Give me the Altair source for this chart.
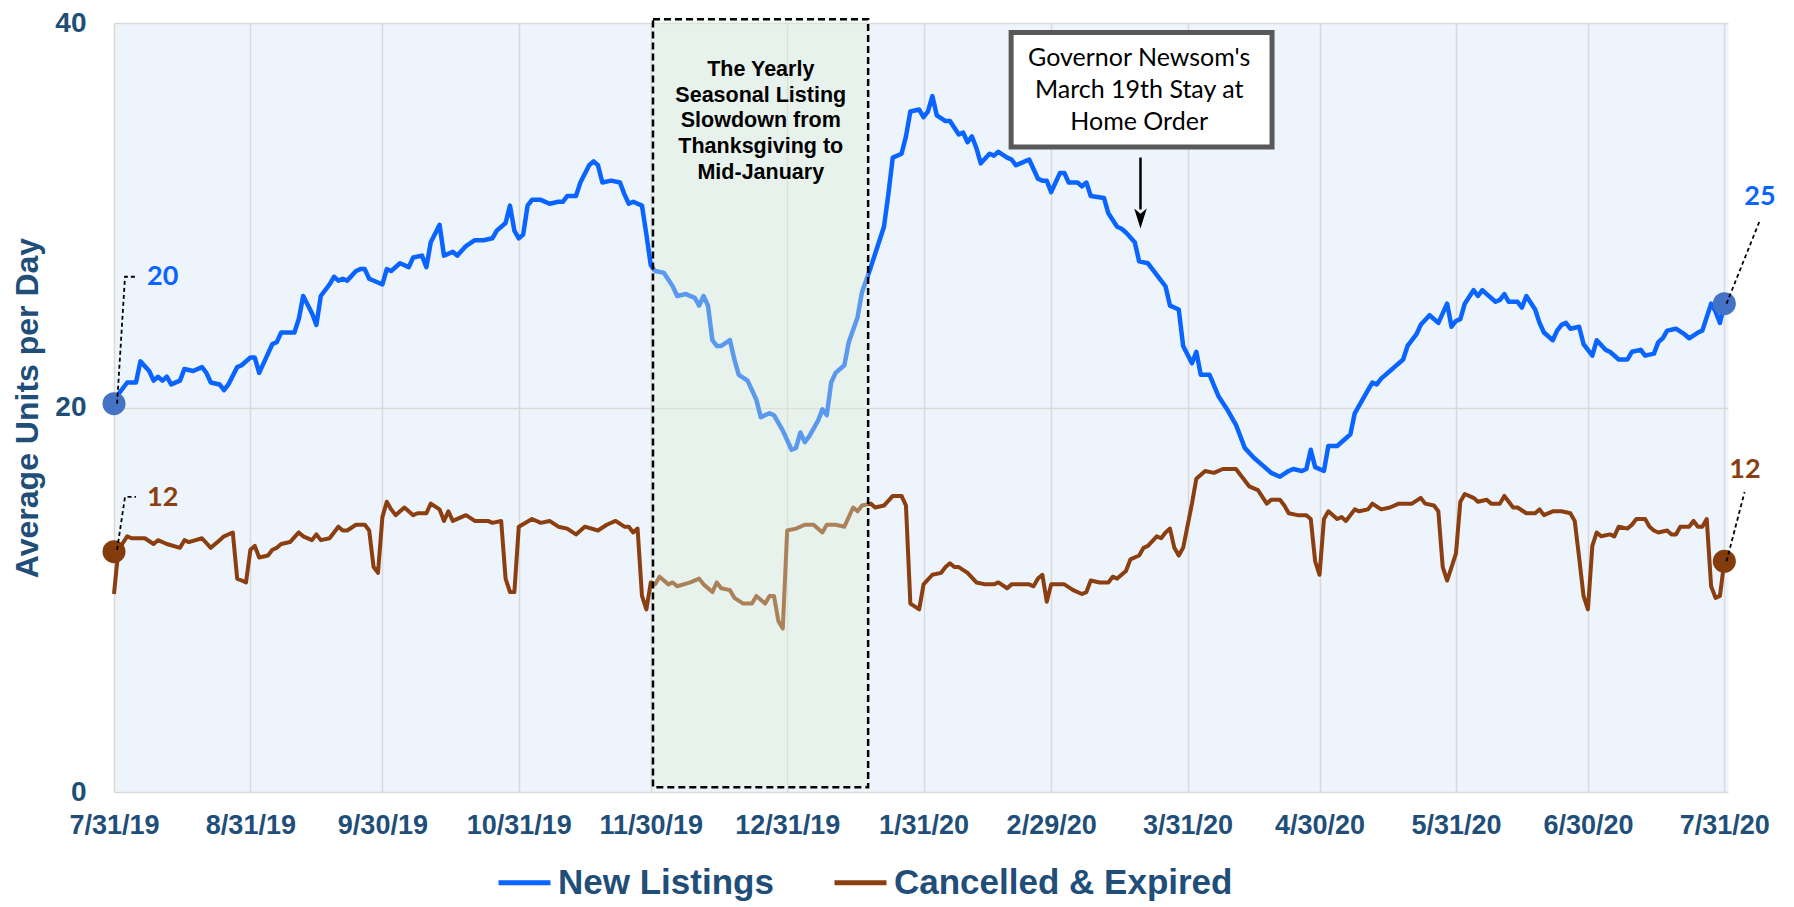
import altair as alt
import pandas as pd

START = pd.Timestamp("2019-07-31")

# (day offset from 7/31/19, average units per day)
new_listings = [
    (0, 20.2), (1, 20.7), (3, 21.3), (5, 21.3), (6, 22.4), (8, 21.9), (9, 21.4), (10, 21.6), (11, 21.4),
    (12, 21.6), (13, 21.2), (15, 21.4), (16, 22.0), (18, 21.9), (20, 22.1), (21, 21.8), (22, 21.3),
    (24, 21.2), (25, 20.9), (26, 21.2), (28, 22.1), (29, 22.2), (31, 22.6), (32, 22.6), (33, 21.8),
    (35, 22.8), (36, 23.3), (37, 23.4), (38, 23.9), (41, 23.9), (42, 24.6), (43, 25.8), (45, 24.9),
    (46, 24.3), (47, 25.8), (49, 26.4), (50, 26.8), (51, 26.6), (52, 26.7), (53, 26.6), (55, 27.1),
    (56, 27.2), (57, 27.2), (58, 26.7), (60, 26.5), (61, 26.4), (62, 27.2), (63, 27.1), (65, 27.5),
    (67, 27.3), (68, 27.8), (70, 27.9), (71, 27.3), (72, 28.6), (74, 29.5), (75, 27.9), (77, 28.1),
    (78, 27.9), (80, 28.4), (82, 28.7), (84, 28.7), (86, 28.8), (87, 29.2), (89, 29.6), (90, 30.5),
    (91, 29.2), (92, 28.8), (93, 29.0), (94, 30.5), (95, 30.8), (97, 30.8), (99, 30.6), (101, 30.7),
    (102, 30.7), (103, 31.0), (105, 31.0), (106, 31.7), (108, 32.6), (109, 32.8), (110, 32.6),
    (111, 31.7), (113, 31.8), (115, 31.7), (116, 31.1), (117, 30.6), (118, 30.7), (120, 30.5),
    (121, 29.0), (122, 27.4), (123, 27.1), (125, 27.0), (127, 26.3), (128, 25.8), (130, 25.9),
    (132, 25.7), (133, 25.3), (134, 25.8), (135, 25.3), (136, 23.5), (137, 23.2), (138, 23.2),
    (140, 23.5), (141, 22.5), (142, 21.7), (144, 21.4), (146, 20.4), (147, 19.5), (149, 19.7),
    (150, 19.6), (152, 18.8), (154, 17.8), (155, 17.9), (156, 18.7), (157, 18.2), (158, 18.5),
    (160, 19.3), (161, 19.9), (162, 19.6), (163, 21.3), (164, 21.8), (166, 22.2), (167, 23.4),
    (169, 24.7), (170, 26.0), (172, 27.3), (173, 28.0), (175, 29.4), (176, 31.1), (177, 33.0),
    (179, 33.2), (180, 34.1), (181, 35.4), (183, 35.5), (184, 35.1), (185, 35.4), (186, 36.2),
    (187, 35.2), (189, 34.9), (190, 34.9), (192, 34.2), (193, 34.3), (194, 33.8), (195, 34.1),
    (196, 33.5), (197, 32.7), (199, 33.2), (200, 33.1), (201, 33.3), (203, 33.0), (204, 32.9),
    (205, 32.6), (206, 32.7), (208, 32.9), (210, 31.9), (211, 31.8), (212, 31.8), (213, 31.2),
    (215, 32.2), (216, 32.2), (217, 31.7), (219, 31.7), (220, 31.5), (221, 31.7), (222, 31.0),
    (225, 30.9), (226, 30.1), (228, 29.4), (229, 29.3), (230, 29.1), (232, 28.6), (233, 27.6),
    (235, 27.5), (237, 26.9), (239, 26.3), (240, 25.3), (242, 25.1), (243, 23.2), (245, 22.3),
    (246, 22.9), (247, 21.7), (249, 21.7), (251, 20.6), (253, 19.9), (255, 19.1), (257, 17.9),
    (259, 17.4), (261, 17.0), (263, 16.6), (265, 16.4), (267, 16.7), (268, 16.8), (270, 16.7),
    (271, 16.8), (272, 17.8), (273, 16.9), (275, 16.7), (276, 18.0), (278, 18.0), (280, 18.4),
    (281, 18.6), (282, 19.7), (284, 20.5), (285, 20.9), (286, 21.3), (287, 21.2), (288, 21.5),
    (290, 21.9), (291, 22.1), (293, 22.5), (294, 23.2), (295, 23.5), (296, 23.8), (297, 24.3),
    (299, 24.8), (300, 24.6), (301, 24.4), (303, 25.4), (304, 24.2), (305, 24.5), (306, 24.6),
    (307, 25.4), (309, 26.1), (310, 25.8), (311, 26.1), (312, 25.9), (314, 25.5), (315, 25.6),
    (316, 25.9), (317, 25.5), (319, 25.5), (320, 25.2), (321, 25.8), (323, 25.1), (324, 24.4),
    (325, 23.9), (327, 23.5), (328, 24.0), (329, 24.3), (330, 24.4), (331, 24.1), (333, 24.2),
    (334, 23.3), (336, 22.7), (337, 23.5), (339, 23.0), (340, 22.9), (342, 22.5), (344, 22.5),
    (345, 22.9), (347, 23.0), (348, 22.7), (350, 22.8), (351, 23.4), (352, 23.6), (353, 24.0),
    (355, 24.1), (357, 23.8), (358, 23.6), (360, 23.9), (361, 24.0), (363, 25.4), (364, 25.0),
    (365, 24.4), (366, 25.4),
]

cancelled_expired = [
    (0, 10.3), (1, 12.6), (3, 13.3), (4, 13.2), (7, 13.2), (9, 12.9), (10, 13.1), (12, 12.9),
    (15, 12.7), (16, 13.1), (17, 13.0), (20, 13.2), (22, 12.7), (24, 13.1), (25, 13.3), (27, 13.5),
    (28, 11.1), (29, 11.0), (30, 10.9), (31, 12.6), (32, 12.8), (33, 12.2), (35, 12.3), (36, 12.6),
    (37, 12.7), (38, 12.9), (40, 13.0), (42, 13.5), (43, 13.3), (45, 13.1), (46, 13.4), (47, 13.1),
    (49, 13.2), (51, 13.8), (52, 13.6), (53, 13.6), (55, 13.9), (57, 13.9), (58, 13.6), (59, 11.7),
    (60, 11.4), (61, 14.3), (62, 15.1), (63, 14.7), (64, 14.4), (66, 14.8), (68, 14.4), (69, 14.5),
    (71, 14.5), (72, 15.0), (74, 14.7), (75, 14.1), (76, 14.6), (77, 14.1), (80, 14.4), (82, 14.1),
    (85, 14.1), (86, 14.0), (88, 14.1), (89, 11.1), (90, 10.4), (91, 10.4), (92, 13.8), (95, 14.2),
    (97, 14.0), (99, 14.1), (101, 13.8), (103, 13.7), (105, 13.4), (107, 13.8), (110, 13.6),
    (112, 13.9), (114, 14.1), (116, 13.8), (117, 13.8), (118, 13.5), (119, 13.7), (120, 10.2),
    (121, 9.5), (122, 10.9), (123, 10.8), (124, 11.2), (126, 10.8), (127, 10.9), (128, 10.7),
    (131, 10.9), (133, 11.1), (134, 10.8), (136, 10.4), (137, 10.9), (138, 10.6), (140, 10.5),
    (141, 10.1), (143, 9.8), (145, 9.8), (146, 10.2), (148, 9.8), (149, 10.2), (150, 10.2),
    (151, 8.9), (152, 8.5), (153, 13.6), (155, 13.7), (157, 13.9), (159, 13.9), (161, 13.5),
    (162, 13.9), (164, 13.9), (166, 13.8), (168, 14.8), (169, 14.6), (170, 14.9), (172, 15.0),
    (173, 14.8), (175, 14.9), (177, 15.4), (179, 15.4), (180, 14.9), (181, 9.8), (183, 9.5),
    (184, 10.8), (186, 11.3), (188, 11.4), (189, 11.7), (190, 11.9), (191, 11.7), (192, 11.7),
    (194, 11.4), (196, 10.9), (198, 10.8), (200, 10.8), (201, 10.9), (203, 10.6), (204, 10.8),
    (206, 10.8), (208, 10.8), (209, 10.7), (210, 11.1), (211, 11.3), (212, 9.9), (213, 10.8),
    (215, 10.8), (216, 10.8), (218, 10.5), (220, 10.3), (221, 10.4), (222, 11.0), (224, 10.9),
    (226, 10.9), (227, 11.2), (228, 11.1), (230, 11.5), (231, 12.1), (233, 12.3), (234, 12.7),
    (235, 12.8), (237, 13.3), (238, 13.2), (239, 13.5), (240, 13.7), (241, 12.7), (242, 12.3),
    (243, 12.7), (245, 15.0), (246, 16.3), (248, 16.7), (250, 16.6), (252, 16.8), (255, 16.8),
    (256, 16.5), (258, 15.9), (260, 15.7), (262, 15.0), (263, 15.2), (265, 15.2), (266, 14.9),
    (267, 14.5), (269, 14.4), (271, 14.4), (272, 14.2), (273, 12.0), (274, 11.3), (275, 14.2),
    (276, 14.6), (278, 14.2), (279, 14.3), (280, 14.1), (282, 14.7), (283, 14.6), (285, 14.7),
    (286, 15.0), (288, 14.7), (290, 14.8), (292, 15.0), (295, 15.0), (297, 15.3), (298, 15.0),
    (300, 14.9), (301, 14.6), (302, 11.7), (303, 11.0), (305, 12.4), (306, 15.1), (307, 15.5),
    (309, 15.3), (310, 15.1), (312, 15.2), (313, 15.0), (315, 15.0), (316, 15.4), (318, 14.8),
    (319, 14.8), (321, 14.5), (323, 14.5), (324, 14.7), (325, 14.4), (327, 14.6), (329, 14.6),
    (331, 14.5), (332, 14.1), (333, 12.2), (334, 10.2), (335, 9.5), (336, 12.8), (337, 13.5),
    (338, 13.3), (340, 13.4), (341, 13.3), (342, 13.8), (344, 13.7), (345, 13.9), (346, 14.2),
    (348, 14.2), (349, 13.8), (350, 13.6), (351, 13.5), (353, 13.6), (354, 13.4), (355, 13.4),
    (356, 13.8), (358, 13.8), (359, 14.1), (360, 13.8), (361, 13.8), (362, 14.2), (363, 10.7),
    (364, 10.1), (365, 10.2), (366, 12.0),
]

series_names = ["New Listings", "Cancelled & Expired"]
line_colors = ["#0A64FF", "#8B3E0F"]
dot_colors = ["#4472C4", "#843C0C"]
tick_dates = [(2019, 7, 31), (2019, 8, 31), (2019, 9, 30), (2019, 10, 31), (2019, 11, 30),
              (2019, 12, 31), (2020, 1, 31), (2020, 2, 29), (2020, 3, 31), (2020, 4, 30),
              (2020, 5, 31), (2020, 6, 30), (2020, 7, 31)]
y_ticks = [0, 20, 40]

# end points (day, value)
nl_dots = [(0, 20.2), (366, 25.4)]
ce_dots = [(0, 12.5), (366, 12.0)]
# value labels: (day, value, text)
nl_labels = [(7.5, 26.8, "20"), (374.1, 30.95, "25")]
ce_labels = [(7.5, 15.3, "12"), (370.7, 16.75, "12")]
# leader lines: (group, order, day, value)
leaders = [
    ("a", 0, 0.7, 20.2), ("a", 1, 2.5, 26.8), ("a", 2, 5.2, 26.8),
    ("b", 0, 0.7, 12.6), ("b", 1, 2.5, 15.35), ("b", 2, 5.0, 15.35),
    ("c", 0, 366.5, 25.4), ("c", 1, 374.2, 29.8),
    ("d", 0, 366.5, 12.0), ("d", 1, 370.6, 15.6),
]
shade_span = (122.5, 171.4, 0.25, 40.2)
shade_text = "The Yearly\nSeasonal Listing\nSlowdown from\nThanksgiving to\nMid-January"
shade_text_pos = (147.0, 37.55)      # first line
note_box = (203.9, 263.2, 33.55, 39.5)
note_text = "Governor Newsom's\nMarch 19th Stay at\nHome Order"
note_text_pos = (233.0, 38.2)        # first line
arrow = (233.3, 33.0, 30.3)
arrow_head = (233.3, 29.9)

NAVY = "#1F4E79"


def d(days):
    return START + pd.to_timedelta(days, unit="D")


nl_df = pd.DataFrame({"date": [d(a) for a, _ in new_listings],
                      "value": [b for _, b in new_listings], "series": series_names[0]})
ce_df = pd.DataFrame({"date": [d(a) for a, _ in cancelled_expired],
                      "value": [b for _, b in cancelled_expired], "series": series_names[1]})

x_enc = alt.X(
    "date:T",
    title=None,
    scale=alt.Scale(domain=[alt.DateTime(year=2019, month=7, date=31),
                            alt.DateTime(year=2020, month=7, date=31, hours=20)]),
    axis=alt.Axis(values=[alt.DateTime(year=a, month=b, date=c) for a, b, c in tick_dates],
                  format="%-m/%-d/%y", labelFont="Liberation Sans", labelFontWeight="bold",
                  labelFontSize=27, labelColor=NAVY, labelPadding=20, ticks=False, tickSize=0,
                  domain=False, grid=True, gridColor="#D9D9D9", gridWidth=1.5,
                  labelOverlap=False, labelFlush=False),
)
y_enc = alt.Y(
    "value:Q",
    title="Average Units per Day",
    scale=alt.Scale(domain=[0, 40], nice=False),
    axis=alt.Axis(values=y_ticks, labelFont="Liberation Sans", labelFontWeight="bold",
                  labelFontSize=28, labelColor=NAVY, labelPadding=28, ticks=False, tickSize=0,
                  domain=False, grid=True, gridColor="#D9D9D9", gridWidth=1.5,
                  titleFont="Liberation Sans", titleFontWeight="bold", titleFontSize=32,
                  titleColor=NAVY, titlePadding=10),
)
color_enc = alt.Color(
    "series:N",
    scale=alt.Scale(domain=series_names, range=line_colors),
    legend=alt.Legend(title=None, orient="none", legendX=382, legendY=831, direction="horizontal",
                      symbolType="stroke", symbolStrokeWidth=5, symbolSize=2700,
                      labelFont="Liberation Sans", labelFontWeight="bold", labelFontSize=35,
                      labelColor=NAVY, labelOffset=5, labelLimit=1000, columnPadding=50,
                      padding=0),
)

line_nl = alt.Chart(nl_df).mark_line(strokeWidth=4.5, strokeJoin="round").encode(
    x=x_enc, y=y_enc, color=color_enc, order="date:T")
line_ce = alt.Chart(ce_df).mark_line(strokeWidth=4, strokeJoin="round").encode(
    x=x_enc, y=y_enc, color=color_enc, order="date:T")

shade_df = pd.DataFrame({"date": [d(shade_span[0])], "date2": [d(shade_span[1])],
                         "value": [shade_span[2]], "value2": [shade_span[3]]})
shade = alt.Chart(shade_df).mark_rect(
    fill="#DFEED6", fillOpacity=0.38, stroke="black", strokeOpacity=1,
    strokeDash=[7, 4], strokeWidth=2.5).encode(x=x_enc, x2="date2:T", y=y_enc, y2="value2:Q")

shade_txt_df = pd.DataFrame({"date": [d(shade_text_pos[0])], "value": [shade_text_pos[1]],
                             "label": [shade_text]})
shade_txt = alt.Chart(shade_txt_df).mark_text(
    font="Liberation Sans", fontWeight="bold", fontSize=21.5, lineBreak="\n", lineHeight=25.7,
    align="center", baseline="middle", color="black").encode(x=x_enc, y=y_enc, text="label:N")

box_df = pd.DataFrame({"date": [d(note_box[0])], "date2": [d(note_box[1])],
                       "value": [note_box[2]], "value2": [note_box[3]]})
box = alt.Chart(box_df).mark_rect(fill="white", stroke="#595959", strokeWidth=5).encode(
    x=x_enc, x2="date2:T", y=y_enc, y2="value2:Q")
note_df = pd.DataFrame({"date": [d(note_text_pos[0])], "value": [note_text_pos[1]],
                        "label": [note_text]})
note = alt.Chart(note_df).mark_text(
    font="Lato", fontSize=25, lineBreak="\n", lineHeight=32, align="center",
    baseline="middle", color="black").encode(x=x_enc, y=y_enc, text="label:N")

arrow_df = pd.DataFrame({"date": [d(arrow[0])], "value": [arrow[1]], "value2": [arrow[2]]})
arrow_rule = alt.Chart(arrow_df).mark_rule(color="black", strokeWidth=2.5).encode(
    x=x_enc, y=y_enc, y2="value2:Q")
head_df = pd.DataFrame({"date": [d(arrow_head[0])], "value": [arrow_head[1]]})
arrow_tip = alt.Chart(head_df).mark_point(
    shape="M0,1L-0.55,-0.75L0,-0.3L0.55,-0.75Z", filled=True, color="black", opacity=1,
    size=520).encode(x=x_enc, y=y_enc)

nl_dot_df = pd.DataFrame({"date": [d(a) for a, _ in nl_dots], "value": [b for _, b in nl_dots]})
ce_dot_df = pd.DataFrame({"date": [d(a) for a, _ in ce_dots], "value": [b for _, b in ce_dots]})
dots_nl = alt.Chart(nl_dot_df).mark_circle(color=dot_colors[0], size=530, opacity=1).encode(
    x=x_enc, y=y_enc)
dots_ce = alt.Chart(ce_dot_df).mark_circle(color=dot_colors[1], size=530, opacity=1).encode(
    x=x_enc, y=y_enc)

lead_df = pd.DataFrame({"gid": [g for g, _, _, _ in leaders], "ord": [o for _, o, _, _ in leaders],
                        "date": [d(a) for _, _, a, _ in leaders],
                        "value": [v for _, _, _, v in leaders]})
leads = alt.Chart(lead_df).mark_line(color="black", strokeDash=[4, 3], strokeWidth=1.8).encode(
    x=x_enc, y=y_enc, detail="gid:N", order="ord:Q")

nl_lab_df = pd.DataFrame({"date": [d(a) for a, _, _ in nl_labels], "value": [b for _, b, _ in nl_labels],
                          "label": [t for _, _, t in nl_labels]})
ce_lab_df = pd.DataFrame({"date": [d(a) for a, _, _ in ce_labels], "value": [b for _, b, _ in ce_labels],
                          "label": [t for _, _, t in ce_labels]})


def label_layer(df, align, color):
    return alt.Chart(df).mark_text(
        font="Lato", fontWeight="bold", fontSize=27, align=align, baseline="middle",
        color=color).encode(x=x_enc, y=y_enc, text="label:N")


lab_nl_start = label_layer(nl_lab_df.iloc[:1], "left", line_colors[0])
lab_nl_end = label_layer(nl_lab_df.iloc[1:], "center", line_colors[0])
lab_ce_start = label_layer(ce_lab_df.iloc[:1], "left", line_colors[1])
lab_ce_end = label_layer(ce_lab_df.iloc[1:], "center", line_colors[1])

chart = alt.layer(
    line_nl, line_ce, shade, shade_txt, box, note, arrow_rule, arrow_tip,
    dots_nl, dots_ce, leads, lab_nl_start, lab_nl_end, lab_ce_start, lab_ce_end,
).properties(
    width=1614, height=769,
    padding={"left": 106, "top": 15, "right": 50, "bottom": 110},
    autosize=alt.AutoSizeParams(type="none"),
).configure_view(fill="#EDF4FB", stroke="transparent")

chart.save("out.html", embed_options={"renderer": "svg", "actions": False})
